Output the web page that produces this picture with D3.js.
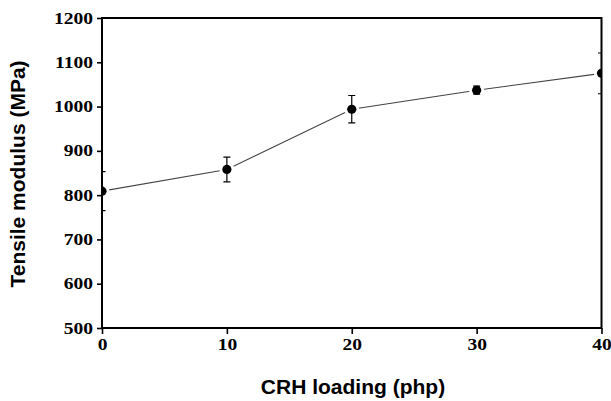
<!DOCTYPE html>
<html><head><meta charset="utf-8">
<script src="https://cdn.jsdelivr.net/npm/d3@7"></script>
<style>body{margin:0;background:#fff}</style>
</head><body>
<svg id="c" width="611" height="401"></svg>
<script>
const loading = [0, 10, 20, 30, 40];
const modulus = [809, 858, 994, 1037, 1075];
const errors = [44, 28, 31, 9, 46];
const xTicks = [0, 10, 20, 30, 40];
const yTicks = [500, 600, 700, 800, 900, 1000, 1100, 1200];

const svg = d3.select("#c");
const L = 102, R = 601.5, T = 18, B = 328;
const x = d3.scaleLinear().domain([0, 40]).range([L, R]);
const y = d3.scaleLinear().domain([500, 1200]).range([B, T]);

svg.append("defs").append("clipPath").attr("id", "clip")
  .append("rect").attr("x", L).attr("y", T).attr("width", R - L).attr("height", B - T);

const plot = svg.append("g").attr("clip-path", "url(#clip)");
const data = loading.map((d, i) => ({x: d, y: modulus[i], e: errors[i]}));

plot.append("path").datum(data)
  .attr("d", d3.line().x(d => x(d.x)).y(d => y(d.y)))
  .attr("fill", "none").attr("stroke", "#444").attr("stroke-width", 1.1);

plot.selectAll("circle.halo").data(data).enter().append("circle")
  .attr("cx", d => x(d.x)).attr("cy", d => y(d.y)).attr("r", 7.5).attr("fill", "#fff");

const eb = plot.selectAll("g.eb").data(data).enter().append("g")
  .attr("stroke", "#000").attr("stroke-width", 1.2);
eb.append("line").attr("x1", d => x(d.x)).attr("x2", d => x(d.x))
  .attr("y1", d => y(d.y - d.e)).attr("y2", d => y(d.y + d.e));
eb.append("line").attr("x1", d => x(d.x) - 3.5).attr("x2", d => x(d.x) + 3.5)
  .attr("y1", d => y(d.y + d.e)).attr("y2", d => y(d.y + d.e));
eb.append("line").attr("x1", d => x(d.x) - 3.5).attr("x2", d => x(d.x) + 3.5)
  .attr("y1", d => y(d.y - d.e)).attr("y2", d => y(d.y - d.e));

plot.selectAll("circle.pt").data(data).enter().append("circle")
  .attr("cx", d => x(d.x)).attr("cy", d => y(d.y)).attr("r", 4.6).attr("fill", "#000");

// frame
svg.append("rect").attr("x", L).attr("y", T).attr("width", R - L).attr("height", B - T)
  .attr("fill", "none").attr("stroke", "#000").attr("stroke-width", 2);

const xa = svg.append("g").attr("transform", `translate(0,${B})`)
  .call(d3.axisBottom(x).tickValues(xTicks).tickFormat(d3.format("d")).tickSize(6).tickPadding(5));
const ya = svg.append("g").attr("transform", `translate(${L},0)`)
  .call(d3.axisLeft(y).tickValues(yTicks).tickFormat(d3.format("d")).tickSize(5).tickPadding(4));
[xa, ya].forEach(a => {
  a.select(".domain").remove();
  a.selectAll(".tick line").attr("stroke", "#000").attr("stroke-width", 1.6);
  a.selectAll(".tick text").attr("fill", "#000")
    .style("font-family", "'Liberation Serif', 'Times New Roman', serif")
    .style("font-weight", "bold").style("font-size", "16px")
    .each(function() {
      const w = this.getComputedTextLength();
      d3.select(this).attr("textLength", w * 1.22).attr("lengthAdjust", "spacingAndGlyphs");
    });
});

svg.append("text").attr("x", 353).attr("y", 394).attr("text-anchor", "middle")
  .style("font-family", "'Liberation Sans', Arial, sans-serif").style("font-weight", "bold")
  .style("font-size", "21px").text("CRH loading (php)");
svg.append("text").attr("transform", "translate(25,174) rotate(-90)").attr("text-anchor", "middle")
  .style("font-family", "'Liberation Sans', Arial, sans-serif").style("font-weight", "bold")
  .style("font-size", "21px").text("Tensile modulus (MPa)");
</script>
</body></html>
